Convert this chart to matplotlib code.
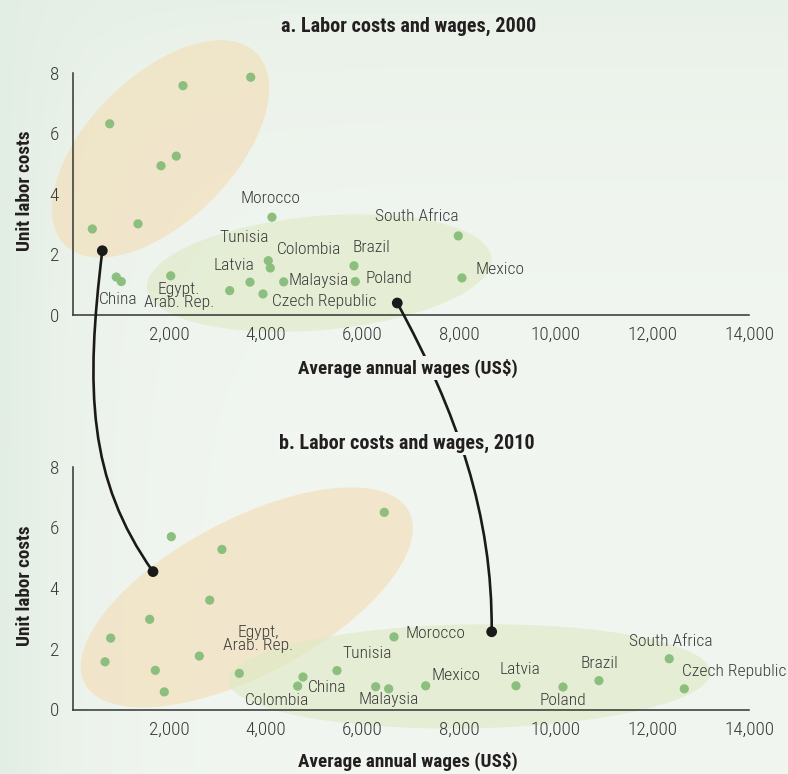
import numpy as np
import matplotlib
matplotlib.use("Agg")
import matplotlib.pyplot as plt
from matplotlib import font_manager as fm
from matplotlib.patches import Ellipse, PathPatch
from matplotlib.path import Path
from matplotlib.transforms import ScaledTranslation, IdentityTransform
from matplotlib.ticker import FuncFormatter

# ---------------- data ----------------
wages_2000 = [3685, 2283, 766, 2144, 1828, 1352, 406, 902, 1006, 2029, 3250, 3670,
              3939, 4049, 4090, 4125, 4368, 5823, 5850, 7982, 8058]
ulc_2000 = [7.85, 7.57, 6.31, 5.24, 4.92, 3.00, 2.83, 1.24, 1.09, 1.28, 0.79, 1.07,
            0.68, 1.78, 1.54, 3.22, 1.08, 1.61, 1.09, 2.60, 1.21]
names_2000 = ["", "", "", "", "", "", "", "China", "", "Egypt.\nArab. Rep.", "", "Latvia",
              "Czech Republic", "Tunisia", "Colombia", "Morocco", "Malaysia", "Brazil",
              "Poland", "South Africa", "Mexico"]

wages_2010 = [6450, 2041, 3090, 2836, 1594, 787, 669, 1710, 1896, 2621, 3449, 4767,
              4657, 5471, 6651, 6272, 6541, 7307, 9176, 10149, 10894, 12349, 12660]
ulc_2010 = [6.49, 5.69, 5.27, 3.60, 2.97, 2.35, 1.57, 1.29, 0.58, 1.76, 1.19, 1.07,
            0.77, 1.28, 2.39, 0.75, 0.68, 0.78, 0.78, 0.74, 0.95, 1.67, 0.68]
names_2010 = ["", "", "", "", "", "", "", "", "", "", "Egypt,\nArab. Rep.", "China",
              "Colombia", "Tunisia", "Morocco", "Malaysia", "", "Mexico", "Latvia",
              "Poland", "Brazil", "South Africa", "Czech Republic"]

# connector markers (group positions) in each panel
link_2000_x = [613, 6719]
link_2000_y = [2.11, 0.38]
link_2010_x = [1662, 8673]
link_2010_y = [4.54, 2.56]

# group ellipse centres (data units)
group_2000_x = [1817, 5103]
group_2000_y = [5.48, 1.37]
group_2010_x = [3604, 8214]
group_2010_y = [3.69, 1.09]

x_ticks = [2000, 4000, 6000, 8000, 10000, 12000, 14000]
y_ticks = [0, 2, 4, 6, 8]
titles = ["a. Labor costs and wages, 2000", "b. Labor costs and wages, 2010"]
x_label = "Average annual wages (US$)"
y_label = "Unit labor costs"

# ---------------- styles ----------------
names_avail = {f.name for f in fm.fontManager.ttflist}
FONT = "DejaVu Sans"
for cand in ["Roboto Condensed", "Liberation Sans Narrow", "Open Sans Condensed",
             "Noto Sans Condensed", "DejaVu Sans Condensed"]:
    if cand in names_avail:
        FONT = cand
        break

plt.rcParams["font.family"] = [FONT, "DejaVu Sans"]

DOT = "#8cbe7e"
ORANGE = "#f3ddb5"
GREEN = "#dfeac6"
TXT = "#3a3a3a"
BOLD = "#231f20"
BASE = np.array([241, 246, 240]) / 255.0
LBL_SIZE = 12.6
TICK_SIZE = 13.8
LIGHT = 300

# label offsets in pixels (dx, dy up), horizontal alignment
off_2000 = {
    "China": (-17.6, -22, "left"), "Egypt.\nArab. Rep.": (8.3, -19.8, "center"),
    "Latvia": (4, 16.6, "right"), "Czech Republic": (9, -7.7, "left"),
    "Tunisia": (-24.3, 22.7, "center"), "Colombia": (6.4, 18, "left"),
    "Morocco": (-1.3, 18.3, "center"), "Malaysia": (4.3, 1, "left"),
    "Brazil": (-1.3, 18.7, "left"), "Poland": (10.7, 2.7, "left"),
    "South Africa": (0.7, 19, "right"), "Mexico": (13.7, 8, "left"),
}
off_2010 = {
    "Egypt,\nArab. Rep.": (18.5, 34.7, "center"), "Tunisia": (5.8, 16.7, "left"),
    "China": (5.3, -10.3, "left"), "Colombia": (11.9, -14, "right"),
    "Malaysia": (-16.9, -12.6, "left"), "Morocco": (12, 3, "left"),
    "Mexico": (5.5, 10, "left"), "Latvia": (-16.2, 16.4, "left"),
    "Poland": (-23.2, -13, "left"), "Brazil": (-18.8, 16.7, "left"),
    "South Africa": (-40.3, 17, "left"), "Czech Republic": (-2.6, 17.7, "left"),
}
# ellipse sizes in pixels (width, height, angle), colours
ell_2000 = [(271, 145, 45, ORANGE), (346, 114, 5, GREEN)]
ell_2010 = [(367, 155, 28, ORANGE), (482, 104, 1, GREEN)]

W, H = 788, 774
fig = plt.figure(figsize=(W / 100, H / 100), dpi=100)

# background gradient
bg = fig.add_axes([0, 0, 1, 1], zorder=-5)
xx = np.arange(W)[None, :]
yy = np.arange(H)[:, None]
left_edge = np.array([226, 237, 227]) / 255.0
top_edge = np.array([232, 241, 232]) / 255.0
fl = np.exp(-xx / 75.0)[..., None]
ft = np.exp(-yy / 130.0)[..., None]
img = np.clip(BASE - (BASE - left_edge) * fl - (BASE - top_edge) * ft * (1 - fl), 0, 1)
bg.imshow(img, aspect="auto", extent=[0, 1, 0, 1], interpolation="bilinear")
bg.set_axis_off()


def bgcol(px, py):
    return img[int(py), int(px)]


ax1 = fig.add_axes([72.7 / W, (H - 314.5) / H, 676.3 / W, 241.8 / H])
ax2 = fig.add_axes([72.7 / W, (H - 709.5) / H, 676.3 / W, 243.0 / H])

fmt = FuncFormatter(lambda v, p: f"{int(v):,}")


def panel(ax, wx, uy, names, offs, gx, gy, ells, lx, ly):
    ax.set_xlim(0, 14000)
    ax.set_ylim(0, 8)
    ax.patch.set_visible(False)
    for s in ["top", "right"]:
        ax.spines[s].set_visible(False)
    for s in ["left", "bottom"]:
        ax.spines[s].set_color("#333333")
        ax.spines[s].set_linewidth(1.1)
    ax.set_xticks(x_ticks)
    ax.set_yticks(y_ticks)
    ax.xaxis.set_major_formatter(fmt)
    ax.tick_params(axis="both", length=0, labelsize=TICK_SIZE, labelcolor=TXT)
    ax.tick_params(axis="x", pad=8)
    ax.tick_params(axis="y", pad=10)
    for t in ax.get_xticklabels() + ax.get_yticklabels():
        t.set_fontweight(LIGHT)
    for cx, cy, (w, h, a, c) in zip(gx, gy, ells):
        e = Ellipse((0, 0), w, h, angle=a, facecolor=c, edgecolor="none", alpha=0.62,
                    transform=ScaledTranslation(cx, cy, ax.transData), clip_on=False,
                    zorder=1)
        ax.add_patch(e)
    ax.scatter(wx, uy, s=44, color=DOT, edgecolors="none", zorder=3, clip_on=False)
    for x, y, n in zip(wx, uy, names):
        if not n:
            continue
        dx, dy, ha = offs[n]
        ax.annotate(n, (x, y), xytext=(dx, dy), textcoords="offset pixels", ha=ha,
                    va="center", fontsize=LBL_SIZE, fontweight=LIGHT, color=TXT,
                    zorder=4, multialignment="center", linespacing=0.85)
    ax.scatter(lx, ly, s=60, color="#1a1a1a", edgecolors="none", zorder=5, clip_on=False)


panel(ax1, wages_2000, ulc_2000, names_2000, off_2000, group_2000_x, group_2000_y,
      ell_2000, link_2000_x, link_2000_y)
panel(ax2, wages_2010, ulc_2010, names_2010, off_2010, group_2010_x, group_2010_y,
      ell_2010, link_2010_x, link_2010_y)

# connectors between panels (cubic curves, control offsets in pixels)
ctrl = [((-17, -139), (-65, 92)), ((60, -110), (1, 117))]
for i, (c1, c2) in enumerate(ctrl):
    p0 = ax1.transData.transform((link_2000_x[i], link_2000_y[i]))
    p3 = ax2.transData.transform((link_2010_x[i], link_2010_y[i]))
    verts = [p0, p0 + np.array(c1), p3 + np.array(c2), p3]
    path = Path(verts, [Path.MOVETO, Path.CURVE4, Path.CURVE4, Path.CURVE4])
    fig.add_artist(PathPatch(path, facecolor="none", edgecolor="#1a1a1a", lw=1.9,
                             transform=IdentityTransform(), zorder=2))


def ftext(px, py, s, size, **kw):
    box = dict(facecolor=bgcol(px, py), edgecolor="none", pad=1.5)
    fig.text(px / W, 1 - py / H, s, ha="center", va="center", fontsize=size,
             fontweight="bold", color=BOLD, bbox=box, zorder=3, **kw)


ftext(408.5, 26, titles[0], 14.5)
ftext(407, 443.3, titles[1], 14.5)
ftext(408, 368, x_label, 13.8)
ftext(408, 761.7, x_label, 13.8)
fig.text(25 / W, 1 - 190.8 / H, y_label, ha="center", va="center", rotation=90,
         fontsize=13.8, fontweight="bold", color=BOLD, zorder=3)
fig.text(25 / W, 1 - 585.8 / H, y_label, ha="center", va="center", rotation=90,
         fontsize=13.8, fontweight="bold", color=BOLD, zorder=3)

fig.savefig("out.png", dpi=100)
